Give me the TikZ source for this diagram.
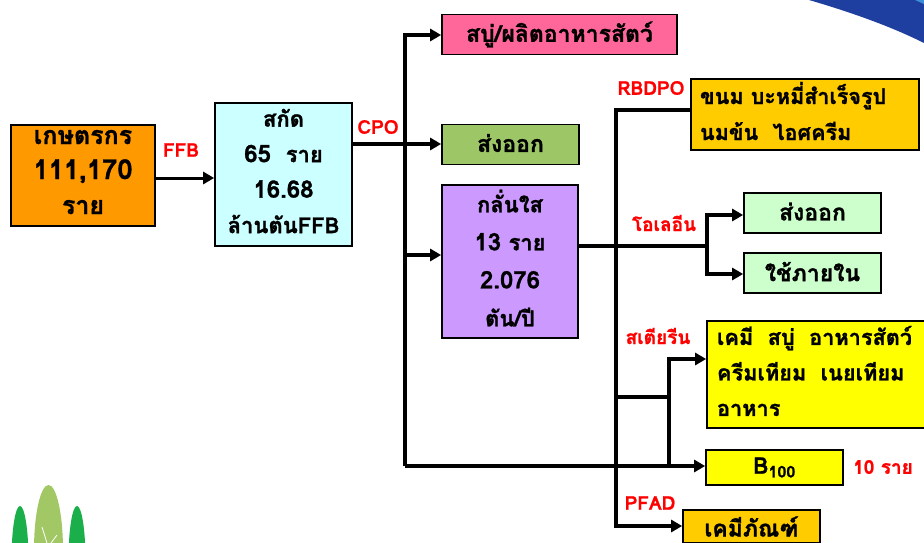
\documentclass[tikz,border=0pt]{standalone}
\usepackage{fontspec}
\setmainfont[Script=Thai,BoldFeatures={FakeBold=1.2}]{Loma}
\usetikzlibrary{arrows.meta,positioning}
\definecolor{farmerC}{HTML}{FF9900}
\definecolor{millC}{HTML}{CCFFFF}
\definecolor{feedC}{HTML}{FF6699}
\definecolor{exportC}{HTML}{9DC766}
\definecolor{refineC}{HTML}{CC99FF}
\definecolor{foodC}{HTML}{FFCC00}
\definecolor{oleinC}{HTML}{CCFFCC}
\definecolor{chemC}{HTML}{FFFF00}
\definecolor{leafC}{HTML}{A2C866}
\definecolor{leafD}{HTML}{1BAF4B}
\definecolor{swooshC}{HTML}{1F3FA0}
\definecolor{swooshL}{HTML}{3A8FD8}
\newcommand{\bignum}[1]{{\fontsize{24}{24}\selectfont #1}}
\tikzset{
  box/.style={draw=black, line width=1.7pt, inner sep=0pt, align=center, font=\bfseries\fontsize{22}{35.5}\selectfont},
  bigbox/.style={box, font=\bfseries\fontsize{23}{35.5}\selectfont},
  lift/.style={text depth=3pt},
  lines/.style={text depth=7pt},
  leftlines/.style={align=left, execute at end node={\par\nointerlineskip\vbox to 7pt{}}},
  tag/.style={text=red, inner sep=0pt, font=\bfseries\fontsize{19}{20}\selectfont},
  link/.style={line width=4.4pt},
  arrow/.style={line width=4.4pt, -{Triangle[length=11pt,width=12pt]}}
}

\begin{document}
\begin{tikzpicture}[x=1pt, y=-1pt]
    \clip (0,0) rectangle (924,543);

    % corner decoration and trees
    \fill[swooshC] (809,0) .. controls (850,12) and (890,26) .. (924,43) -- (924,0) -- cycle;
    \fill[swooshL] (915,0) -- (924,0) -- (924,4) -- cycle;
    \fill[leafD] (20,560) ellipse (8.5 and 54);
    \fill[leafD] (77,560) ellipse (8.5 and 54);
    \fill[leafC] (48.5,550) ellipse (14.5 and 65);
    \draw[white, line width=0.8pt] (42,527) -- (47,543) (57,535) -- (51,543);

    % boxes, left to right
    \node[box, lines, fill=farmerC, minimum width=144, minimum height=101, font=\bfseries\fontsize{25}{35}\selectfont] (farmer) at (83,175.5) {เกษตรกร\\{\fontsize{27.5}{27.5}\selectfont 111,170}\\ราย};
    \node[box, lines, fill=millC, minimum width=137, minimum height=143] (mill) at (283.5,174.5) {สกัด\\\bignum{65}\ \ ราย\\\bignum{16.68}\\ล้านตันFFB};
    \node[bigbox, fill=feedC, minimum width=235, minimum height=40] (feed) at (559.5,34.5) {สบู่/ผลิตอาหารสัตว์};
    \node[bigbox, lift, fill=exportC, minimum width=137, minimum height=40] (export) at (510.5,144.5) {ส่งออก};
    \node[box, lines, fill=refineC, minimum width=136, minimum height=153, font=\bfseries\fontsize{22}{38}\selectfont] (refine) at (510,261.5) {กลั่นใส\\\bignum{13} ราย\\\bignum{2.076}\\ตัน/ปี};
    \node[box, leftlines, fill=foodC, minimum width=228, minimum height=71, text width=210, font=\bfseries\fontsize{21.5}{36}\selectfont] (food) at (805,114.5) {ขนม บะหมี่สำเร็จรูป\\นมข้น\ \ ไอศครีม};
    \node[bigbox, lift, fill=oleinC, minimum width=137, minimum height=40] (oleinOut) at (812.5,213) {ส่งออก};
    \node[bigbox, lift, fill=oleinC, minimum width=137, minimum height=40] (oleinIn) at (812.5,273) {ใช้ภายใน};
    \node[box, leftlines, fill=chemC, minimum width=240, minimum height=107, text width=220, font=\bfseries\fontsize{21.7}{35.5}\selectfont] (chem) at (827,374.5) {เคมี\ \ สบู่\ \ อาหารสัตว์\\ครีมเทียม\ \ เนยเทียม\\อาหาร};
    \node[bigbox, fill=chemC, minimum width=137, minimum height=35] (biodiesel) at (774.5,467.5) {B\textsubscript{100}};
    \node[bigbox, fill=foodC, minimum width=137, minimum height=33] (product) at (751.5,526.5) {เคมีภัณฑ์};

    % labels
    \node[tag] (ffbTag) at (181,150) {FFB};
    \node[tag] (cpoTag) at (378,127) {CPO};
    \node[tag] (rbdTag) at (651,88) {RBDPO};
    \node[tag] (oleinTag) at (664,223) {โอเลอีน};
    \node[tag] (stearinTag) at (658,336) {สเตียรีน};
    \node[tag] (pfadTag) at (650,503) {PFAD};
    \node[tag] (countTag) at (883,467) {10 ราย};

    % junctions
    \coordinate (busTop) at (405,35);
    \coordinate (busOut) at (405,144);
    \coordinate (busRefine) at (405,255);
    \coordinate (busEnd) at (405,466);
    \coordinate (splitTop) at (616,110);
    \coordinate (splitMid) at (616,246);
    \coordinate (splitStearin) at (616,397);
    \coordinate (splitEnd) at (616,526);
    \coordinate (oleinMid) at (707,246);
    \coordinate (oleinTop) at (707,215);
    \coordinate (oleinLow) at (707,274);
    \coordinate (stearinMid) at (669,397);
    \coordinate (stearinTop) at (669,359);
    \coordinate (stearinEnd) at (669,466);

    % connectors
    \draw[arrow, line width=3pt] (farmer.east |- 0,178) -- (mill.west |- 0,178);
    \draw[arrow] (mill.east |- busOut) -- (busOut -| export.west);
    \draw[arrow] (busEnd) -- (busTop) -- (busTop -| feed.west);
    \draw[arrow] (busRefine) -- (busRefine -| refine.west);
    \draw[arrow] (busEnd) -- (biodiesel.west |- busEnd);
    \draw[link] (food.west |- splitTop) -- (splitTop) -- (splitMid);
    \draw[arrow] (splitMid) -- (splitEnd) -- (splitEnd -| product.west);
    \draw[link] (refine.east |- splitMid) -- (oleinMid);
    \draw[arrow] (oleinLow) -- (oleinTop) -- (oleinTop -| oleinOut.west);
    \draw[arrow] (oleinTop) -- (oleinLow) -- (oleinLow -| oleinIn.west);
    \draw[link] (splitStearin) -- (stearinMid);
    \draw[arrow] (stearinEnd) -- (stearinTop) -- (stearinTop -| chem.west);
\end{tikzpicture}
\end{document}
